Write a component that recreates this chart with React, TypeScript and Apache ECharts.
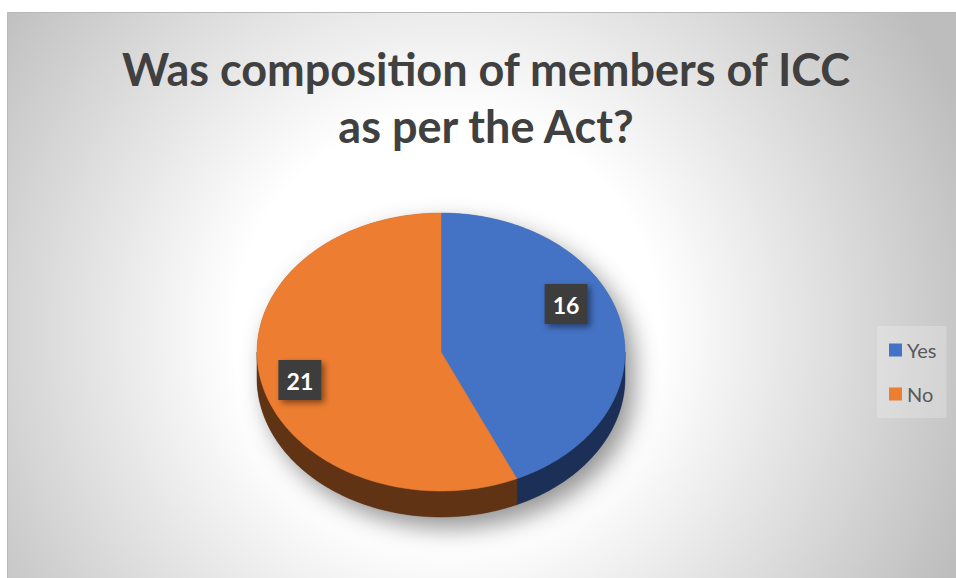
import React, { useEffect, useRef } from 'react';
import * as echarts from 'echarts';

const categories = ['Yes', 'No'];
const values = [16, 21];
const topColors = ['#4472C4', '#ED7D31'];
const sideColors = ['#1C2F57', '#5F3314'];
const titleText = 'Was composition of members of ICC\nas per the Act?';

const CX = 441;
const CY = 352;
const RX = 184;
const RY = 139;
const DEPTH = 26;
const TOTAL = values.reduce((a, b) => a + b, 0);
const TWO_PI = Math.PI * 2;

function pt(a: number, dy = 0): number[] {
  return [CX + RX * Math.sin(a), CY - RY * Math.cos(a) + dy];
}
function arc(a0: number, a1: number, dy: number, n: number): number[][] {
  const pts: number[][] = [];
  for (let i = 0; i <= n; i++) {
    const a = a0 + ((a1 - a0) * i) / n;
    pts.push(pt(a, dy));
  }
  return pts;
}

function makeRender(idx: number) {
  return (params: any, api: any) => {
    const v = api.value(0) as number;
    const before = values.slice(0, idx).reduce((a, b) => a + b, 0);
    const a0 = (before / TOTAL) * TWO_PI;
    const a1 = ((before + v) / TOTAL) * TWO_PI;
    const children: any[] = [];
    if (idx === 0) {
      const sil = arc(-Math.PI / 2, Math.PI / 2, 0, 120).concat(arc(Math.PI / 2, (3 * Math.PI) / 2, DEPTH, 120));
      children.push({
        type: 'polygon',
        shape: { points: sil },
        style: {
          fill: '#6a6a6a',
          shadowBlur: 24,
          shadowOffsetX: 9,
          shadowOffsetY: 11,
          shadowColor: 'rgba(0,0,0,0.42)',
        },
      });
    }
    const s0 = Math.max(a0, Math.PI / 2);
    const s1 = Math.min(a1, (3 * Math.PI) / 2);
    if (s1 > s0) {
      const side = arc(s0, s1, 0, 80).concat(arc(s1, s0, DEPTH, 80));
      children.push({
        type: 'polygon',
        shape: { points: side },
        style: { fill: sideColors[idx], stroke: sideColors[idx], lineWidth: 0.5 },
      });
    }
    const top = [[CX, CY]].concat(arc(a0, a1, 0, 160));
    children.push({
      type: 'polygon',
      shape: { points: top },
      style: { fill: topColors[idx], stroke: topColors[idx], lineWidth: 0.5 },
    });
    const mid = (a0 + a1) / 2;
    const lx = CX - 8 + 0.74 * RX * Math.sin(mid);
    const ly = CY - 10 - 1.3 * RY * Math.cos(mid);
    children.push({
      type: 'rect',
      shape: { x: lx - 21.5, y: ly - 20, width: 43, height: 40 },
      style: {
        fill: '#3E3E3E',
        shadowBlur: 6,
        shadowOffsetX: 3,
        shadowOffsetY: 3,
        shadowColor: 'rgba(0,0,0,0.45)',
      },
    });
    children.push({
      type: 'text',
      x: lx,
      y: ly + 1,
      style: {
        text: String(v),
        fill: '#FFFFFF',
        fontSize: 23,
        fontWeight: 'bold',
        fontFamily: 'Lato',
        align: 'center',
        verticalAlign: 'middle',
      },
    });
    return { type: 'group', children };
  };
}

export default function App() {
  const ref = useRef<HTMLDivElement>(null);
  useEffect(() => {
    if (!ref.current) return;
    const chart = echarts.init(ref.current, null, { renderer: 'svg' });
    const option: any = {
      animation: false,
      graphic: [
        {
          type: 'rect',
          z: -10,
          silent: true,
          shape: { x: 7.5, y: 12.5, width: 960, height: 580 },
          style: {
            fill: {
              type: 'radial',
              x: 447,
              y: 330,
              r: 560,
              global: true,
              colorStops: [
                { offset: 0, color: '#ffffff' },
                { offset: 0.38, color: '#ffffff' },
                { offset: 1, color: '#bdbdbd' },
              ],
            },
            stroke: '#b8b8b8',
            lineWidth: 1,
          },
        },
      ],
      title: {
        text: titleText,
        left: 486,
        top: 40,
        textAlign: 'center',
        padding: 0,
        textStyle: {
          fontFamily: 'Lato',
          fontWeight: 'bold',
          fontSize: 45,
          lineHeight: 57,
          color: '#404040',
        },
      },
      legend: {
        data: categories,
        orient: 'vertical',
        left: 877,
        top: 326,
        padding: [14, 10, 14, 12],
        itemWidth: 13,
        itemHeight: 13,
        itemGap: 24,
        icon: 'rect',
        selectedMode: false,
        backgroundColor: 'rgba(255,255,255,0.22)',
        textStyle: { fontFamily: 'Lato', fontSize: 20, color: '#595959' },
      },
      series: categories.map((name, i) => ({
        type: 'custom',
        name,
        coordinateSystem: 'none',
        itemStyle: { color: topColors[i] },
        renderItem: makeRender(i),
        data: [[values[i]]],
      })),
    };
    chart.setOption(option);
    return () => chart.dispose();
  }, []);
  return (
    <div
      ref={ref}
      style={{ position: 'fixed', left: 0, top: 0, width: 956, height: 578, background: '#ffffff' }}
    />
  );
}
